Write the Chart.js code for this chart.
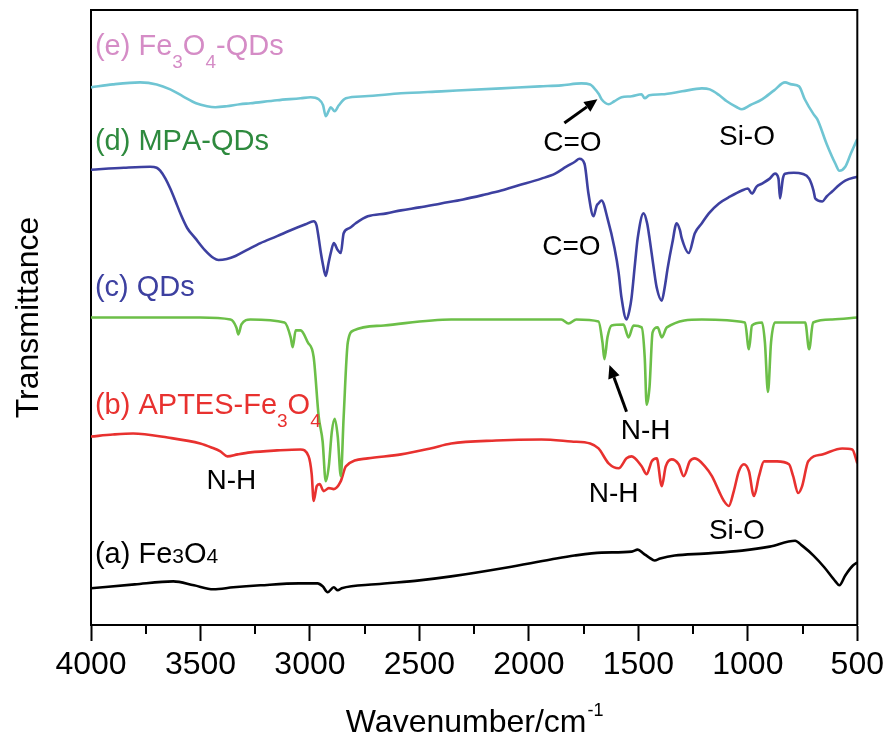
<!DOCTYPE html>
<html>
<head>
<meta charset="utf-8">
<title>FTIR spectra</title>
<script src="https://cdn.jsdelivr.net/npm/chart.js@4.4.0/dist/chart.umd.min.js"></script>
<style>
  body { margin: 0; background: #fff; }
  #wrap { width: 889px; height: 741px; }
</style>
</head>
<body>
<div id="wrap"><canvas id="myChart" width="889" height="741"></canvas></div>
<script>
// wavenumber (cm-1) and transmittance (arbitrary, offset) for each spectrum
const wnA = [4000, 3800, 3624, 3530, 3441, 3350, 3226, 3050, 2965, 2942, 2919, 2891, 2873, 2855, 2700, 2500, 2355, 2100, 1900, 1792, 1668, 1530, 1503, 1476, 1450, 1426, 1400, 1334, 1200, 1027, 900, 784, 752, 700, 650, 600, 582, 555, 520, 500];
const tA  = [37, 41, 44, 40, 36, 38, 40, 42, 42, 39, 33, 38, 35, 37, 41, 45, 49, 58, 66, 70, 73, 74, 76, 72, 68, 65, 67, 70, 72, 75, 79, 85, 80, 70, 58, 44, 40, 50, 60, 63];

const wnB = [4000, 3900, 3808, 3650, 3501, 3450, 3409, 3377, 3330, 3272, 3150, 3043, 3006, 2992, 2983, 2969, 2956, 2937, 2914, 2891, 2859, 2836, 2736, 2584, 2450, 2355, 2150, 1943, 1806, 1720, 1682, 1636, 1590, 1554, 1531, 1485, 1462, 1439, 1416, 1393, 1375, 1348, 1316, 1293, 1265, 1242, 1196, 1164, 1132, 1109, 1087, 1064, 1041, 1018, 995, 972, 949, 926, 867, 812, 793, 770, 752, 724, 660, 569, 523, 500];
const tB  = [190, 192, 193, 189, 183, 179, 175, 170, 172, 174, 176, 177, 170, 152, 125, 140, 142, 135, 138, 137, 145, 160, 168, 172, 178, 183, 186, 187, 185, 183, 178, 163, 158, 168, 170, 160, 152, 165, 168, 140, 160, 167, 162, 150, 165, 168, 160, 150, 135, 125, 120, 135, 155, 162, 155, 130, 150, 165, 165, 162, 150, 133, 140, 165, 172, 178, 177, 163];

const wnC = [4000, 3501, 3363, 3336, 3327, 3313, 3272, 3116, 3088, 3079, 3065, 3043, 3010, 2983, 2960, 2942, 2928, 2914, 2900, 2887, 2873, 2859, 2846, 2827, 2800, 2662, 2355, 1852, 1819, 1783, 1682, 1664, 1655, 1641, 1622, 1568, 1545, 1522, 1485, 1471, 1462, 1449, 1435, 1412, 1393, 1370, 1210, 1013, 995, 981, 935, 922, 908, 894, 876, 738, 720, 702, 615, 500];
const tC  = [310, 310, 308, 300, 293, 303, 308, 305, 290, 280, 297, 297, 285, 270, 210, 185, 145, 160, 195, 208, 190, 150, 210, 285, 297, 302, 308, 308, 304, 308, 306, 285, 268, 290, 302, 303, 290, 302, 300, 270, 222, 240, 295, 300, 290, 300, 308, 305, 278, 302, 305, 285, 235, 285, 305, 305, 278, 305, 308, 310];

const wnD = [4000, 3850, 3730, 3700, 3684, 3660, 3638, 3610, 3592, 3560, 3524, 3480, 3440, 3418, 3380, 3340, 3280, 3226, 3150, 3088, 3020, 2983, 2970, 2960, 2950, 2942, 2928, 2915, 2905, 2891, 2873, 2859, 2846, 2820, 2791, 2736, 2650, 2584, 2500, 2401, 2300, 2200, 2126, 2050, 1943, 1880, 1829, 1790, 1769, 1746, 1728, 1705, 1690, 1682, 1668, 1641, 1609, 1590, 1577, 1554, 1540, 1531, 1515, 1503, 1476, 1460, 1449, 1430, 1416, 1393, 1380, 1366, 1345, 1325, 1310, 1302, 1270, 1242, 1210, 1178, 1132, 1080, 1027, 1000, 981, 960, 935, 900, 876, 860, 853, 840, 830, 790, 752, 720, 700, 692, 660, 640, 615, 580, 555, 500];
const tD  = [459, 461, 462, 461, 458, 450, 440, 425, 415, 400, 390, 378, 370, 368, 369, 372, 379, 385, 392, 398, 404, 407, 403, 390, 375, 365, 352, 365, 375, 385, 378, 375, 395, 400, 405, 412, 415, 418, 421, 425, 429, 434, 438, 443, 450, 455, 462, 467, 470, 465, 435, 412, 423, 425, 428, 410, 380, 355, 330, 308, 318, 330, 365, 390, 415, 405, 390, 360, 340, 327, 340, 360, 385, 405, 398, 390, 375, 395, 405, 415, 425, 432, 438, 440, 435, 442, 445, 450, 455, 450, 430, 450, 455, 456, 455, 450, 438, 430, 427, 432, 437, 444, 448, 452];

const wnE = [4000, 3900, 3776, 3700, 3638, 3580, 3520, 3470, 3432, 3380, 3320, 3272, 3150, 3043, 2997, 2960, 2940, 2928, 2915, 2905, 2887, 2868, 2836, 2750, 2584, 2400, 2126, 1950, 1852, 1760, 1720, 1705, 1680, 1668, 1636, 1610, 1577, 1530, 1485, 1471, 1450, 1393, 1300, 1210, 1174, 1130, 1096, 1050, 1027, 990, 935, 880, 830, 800, 766, 740, 700, 683, 640, 600, 582, 555, 530, 500];
const tE  = [542, 545, 547, 545, 540, 533, 526, 523, 522, 523, 525, 526, 529, 531, 532, 530, 524, 513, 518, 522, 518, 524, 531, 533, 536, 538, 541, 543, 544, 546, 545, 542, 535, 530, 525, 528, 532, 533, 535, 531, 534, 535, 538, 541, 540, 534, 528, 522, 520, 524, 530, 539, 547, 545, 543, 530, 515, 510, 485, 465, 458, 462, 475, 490];

const seriesNames  = ['(e) Fe3O4-QDs', '(d) MPA-QDs', '(c) QDs', '(b) APTES-Fe3O4', '(a) Fe3O4'];
// "_" = subscript digit, "~" = small digit on the baseline
const seriesMarkup = ['(e) Fe_3O_4-QDs', '(d) MPA-QDs', '(c) QDs', '(b) APTES-Fe_3O_4', '(a) Fe~3O~4'];
const lineColors   = ['#6fc5d3', '#3d40a0', '#6cbf48', '#e8312f', '#000000'];
const nameColors   = ['#d58cc6', '#2e8a3e', '#3d40a0', '#e8312f', '#000000'];
const nameAnchors  = [[3982, 575], [3982, 479], [3982, 332], [3982, 213], [3982, 63]];

const xTicks = [4000, 3500, 3000, 2500, 2000, 1500, 1000, 500];

// peak assignments: [text, wavenumber, value]
const peakNotes = [
  ['C=O', 1801, 478], ['Si-O', 1004, 484], ['C=O', 1806, 373],
  ['N-H', 1467, 188], ['N-H', 3359, 137], ['N-H', 1613, 124], ['Si-O', 1050, 87]
];
// arrows: [fromWn, fromVal, toWn, toVal]
const peakArrows = [[1838, 506, 1687, 530], [1554, 215, 1632, 262]];

const FONT = "'Liberation Sans', Arial, sans-serif";

function pts(wn, t) {
  return wn.map((w, i) => ({ x: w, y: t[i] }));
}

const allX = [wnE, wnD, wnC, wnB, wnA];
const allY = [tE, tD, tC, tB, tA];

function drawMarkup(ctx, x, y, str, size, color) {
  ctx.fillStyle = color;
  ctx.textAlign = 'left';
  ctx.textBaseline = 'alphabetic';
  let i = 0;
  while (i < str.length) {
    const c = str[i];
    if (c === '_' || c === '~') {
      const d = str[i + 1];
      const s = c === '_' ? Math.round(size * 0.66) : Math.round(size * 0.72);
      ctx.font = s + 'px ' + FONT;
      ctx.fillText(d, x, c === '_' ? y + size * 0.45 : y);
      x += ctx.measureText(d).width;
      i += 2;
    } else {
      ctx.font = size + 'px ' + FONT;
      ctx.fillText(c, x, y);
      x += ctx.measureText(c).width;
      i += 1;
    }
  }
}

const ftirText = {
  id: 'ftirText',
  afterDraw(chart) {
    const ctx = chart.ctx;
    const xs = chart.scales.x;
    const ys = chart.scales.y;
    const area = chart.chartArea;
    ctx.save();

    // top and right frame
    ctx.strokeStyle = '#000';
    ctx.lineWidth = 2;
    ctx.beginPath();
    ctx.moveTo(area.left, area.top);
    ctx.lineTo(area.right, area.top);
    ctx.lineTo(area.right, area.bottom);
    ctx.stroke();

    // minor ticks
    xs.ticks.forEach(t => {
      if (t.value % 500 !== 0) {
        const px = Math.round(xs.getPixelForValue(t.value));
        ctx.beginPath();
        ctx.moveTo(px, area.bottom);
        ctx.lineTo(px, area.bottom + 9);
        ctx.stroke();
      }
    });

    // series names
    seriesMarkup.forEach((m, i) => {
      const a = nameAnchors[i];
      drawMarkup(ctx, xs.getPixelForValue(a[0]), ys.getPixelForValue(a[1]), m, 29, nameColors[i]);
    });

    // peak notes
    ctx.fillStyle = '#000';
    ctx.font = '28px ' + FONT;
    ctx.textAlign = 'center';
    ctx.textBaseline = 'alphabetic';
    peakNotes.forEach(n => {
      ctx.fillText(n[0], xs.getPixelForValue(n[1]), ys.getPixelForValue(n[2]));
    });

    // arrows
    peakArrows.forEach(a => {
      const x1 = xs.getPixelForValue(a[0]), y1 = ys.getPixelForValue(a[1]);
      const x2 = xs.getPixelForValue(a[2]), y2 = ys.getPixelForValue(a[3]);
      const ang = Math.atan2(y2 - y1, x2 - x1);
      const hl = 13, hw = 6;
      const bx = x2 - hl * Math.cos(ang), by = y2 - hl * Math.sin(ang);
      ctx.strokeStyle = '#000';
      ctx.lineWidth = 3;
      ctx.beginPath();
      ctx.moveTo(x1, y1);
      ctx.lineTo(bx, by);
      ctx.stroke();
      ctx.beginPath();
      ctx.moveTo(x2, y2);
      ctx.lineTo(bx + hw * Math.sin(ang), by - hw * Math.cos(ang));
      ctx.lineTo(bx - hw * Math.sin(ang), by + hw * Math.cos(ang));
      ctx.closePath();
      ctx.fill();
    });

    // x axis title with superscript
    ctx.fillStyle = '#000';
    ctx.textAlign = 'left';
    ctx.font = '32px ' + FONT;
    const main = 'Wavenumber/cm';
    const wMain = ctx.measureText(main).width;
    ctx.font = '18px ' + FONT;
    const wSup = ctx.measureText('-1').width;
    const cx = (area.left + area.right) / 2;
    let tx = cx - (wMain + wSup) / 2;
    ctx.font = '32px ' + FONT;
    ctx.fillText(main, tx, 732);
    ctx.font = '18px ' + FONT;
    ctx.fillText('-1', tx + wMain + 1, 716);

    ctx.restore();
  }
};

const ctx = document.getElementById('myChart');

new Chart(ctx, {
  type: 'line',
  data: {
    datasets: seriesNames.map((name, i) => ({
      label: name,
      data: pts(allX[i], allY[i]),
      borderColor: lineColors[i],
      borderWidth: 2.6,
      pointRadius: 0,
      cubicInterpolationMode: 'monotone',
      fill: false
    }))
  },
  options: {
    responsive: false,
    animation: false,
    layout: { padding: { top: 10, right: 7, bottom: 51.6, left: 0 } },
    plugins: {
      legend: { display: false },
      tooltip: { enabled: false }
    },
    scales: {
      x: {
        type: 'linear',
        reverse: true,
        min: 500,
        max: 4000,
        afterBuildTicks: (scale) => {
          const t = [];
          for (let v = 4000; v >= 500; v -= 250) t.push({ value: v });
          scale.ticks = t;
        },
        ticks: {
          autoSkip: false,
          maxRotation: 0,
          padding: 5,
          color: '#000',
          font: { family: FONT, size: 32 },
          callback: (v) => (xTicks.includes(v) ? String(v) : '')
        },
        grid: {
          drawOnChartArea: false,
          tickLength: 16,
          tickWidth: 2,
          tickColor: (c) => (c.tick && c.tick.value % 500 === 0 ? '#000' : 'rgba(0,0,0,0)')
        },
        border: { color: '#000', width: 2 }
      },
      y: {
        min: 0,
        max: 620,
        ticks: { display: false },
        grid: { display: false, drawTicks: false },
        border: { color: '#000', width: 2 },
        title: {
          display: true,
          text: 'Transmittance',
          color: '#000',
          font: { family: FONT, size: 32 },
          padding: { top: 10, bottom: 42.6 }
        }
      }
    }
  },
  plugins: [ftirText]
});
</script>
</body>
</html>
